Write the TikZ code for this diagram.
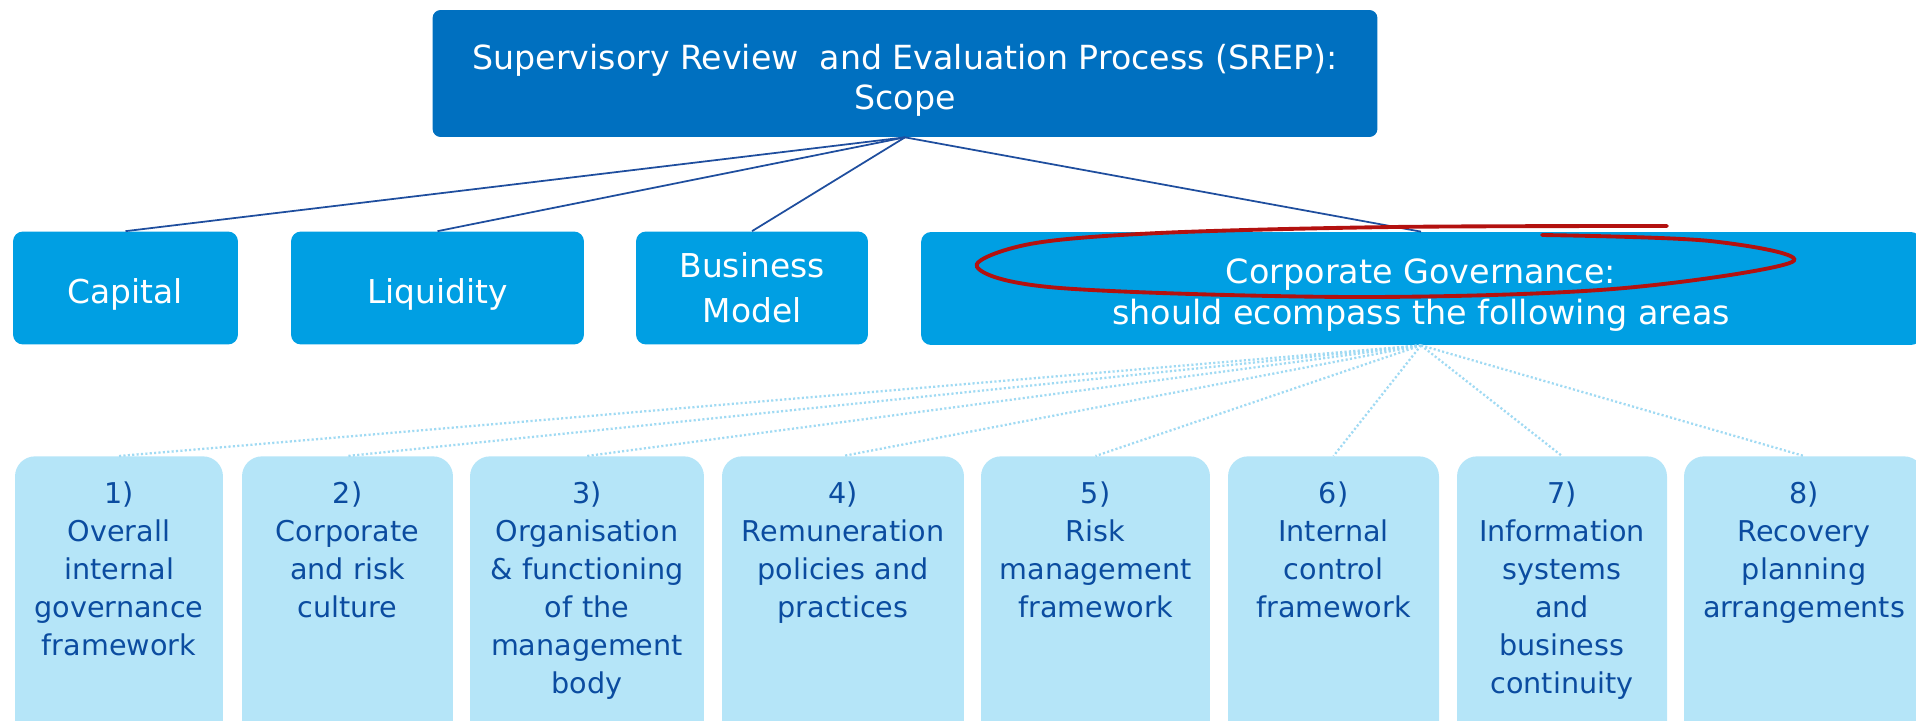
\documentclass[tikz,border=0pt]{standalone}
\usepackage{fontspec}
\setmainfont{DejaVu Sans}
\usepackage{tikz}
\usetikzlibrary{positioning}

\definecolor{srepblue}{HTML}{0070C0}
\definecolor{pillarblue}{HTML}{009FE3}
\definecolor{areafill}{HTML}{B5E5F8}
\definecolor{areatext}{HTML}{0B4CA0}
\definecolor{linkblue}{HTML}{1F4E9E}
\definecolor{dotblue}{HTML}{A0DAF3}
\definecolor{markred}{HTML}{B3110F}

\newcommand\srepfont{\fontsize{18.9}{23}\selectfont}
\newcommand\pillarfont{\fontsize{18.7}{25.5}\selectfont}
\newcommand\govfont{\fontsize{19}{23.6}\selectfont}
\newcommand\areafont{\fontsize{16.3}{21.6}\selectfont}

\tikzset{
    srepbox/.style = {
        fill=srepblue,
        text=white,
        rounded corners=0.16cm,
        align=center,
        text height=41.4pt,
        text depth=0pt,
        font=\srepfont
    },
    pillar/.style = {
        fill=pillarblue,
        text=white,
        rounded corners=0.2cm,
        minimum height=2.26cm,
        align=center,
        font=\pillarfont
    },
    oneline/.style = {text height=17.1pt, text depth=0pt},
    area/.style = {
        fill=areafill,
        text=areatext,
        rounded corners=0.4cm,
        anchor=north,
        align=center,
        inner xsep=0pt,
        inner ysep=0.594cm,
        text height=1em,
        text depth=5.6cm,
        font=\areafont
    },
    link/.style = {draw=linkblue, line width=1pt},
    dotlink/.style = {draw=dotblue, line width=1.3pt, dash pattern=on 1.2pt off 1.3pt},
    redmark/.style = {draw=markred, line width=2.2pt, line cap=round}
}

\begin{document}
\begin{tikzpicture}[x=0.02cm,y=-0.02cm]
    \useasboundingbox (0,0) rectangle (1916,720);
    \clip (0,0) rectangle (1916,720);

    % scope box
    \node[srepbox, minimum width=18.9cm, minimum height=2.54cm] (srep) at (905,73.5)
        {Supervisory Review~ and Evaluation Process (SREP):\\Scope};

    % the four pillars
    \node[pillar, oneline, minimum width=4.5cm] (capital) at (125.5,288) {Capital};
    \node[pillar, oneline, minimum width=5.86cm] (liquidity) at (437.5,288) {Liquidity};
    \node[pillar, minimum width=4.64cm] (bizmodel) at (752,288) {Business\\Model};
    \node[pillar, font=\govfont, text height=41.5pt, text depth=0pt, minimum width=20cm] (corpgov) at (1421,288.5)
        {Corporate Governance:\\should ecompass the following areas};

    % governance areas
    \node[area, text width=4.16cm] (area1) at (119,456) {1)\\Overall\\internal\\governance\\framework};
    \node[area, text width=4.22cm] (area2) at (347.5,456) {2)\\Corporate\\and risk\\culture};
    \node[area, text width=4.68cm] (area3) at (587,456) {3)\\Organisation\\\& functioning\\of the\\management\\body};
    \node[area, text width=4.84cm] (area4) at (843,456) {4)\\Remuneration\\policies and\\practices};
    \node[area, text width=4.58cm] (area5) at (1095.5,456) {5)\\Risk\\management\\framework};
    \node[area, text width=4.22cm] (area6) at (1333.5,456) {6)\\Internal\\control\\framework};
    \node[area, text width=4.2cm] (area7) at (1562,456) {7)\\Information\\systems\\and\\business\\continuity};
    \node[area, text width=4.8cm] (area8) at (1804,456) {8)\\Recovery\\planning\\arrangements};

    \path[link] (srep.south) -- (capital.north);
    \path[link] (srep.south) -- (liquidity.north);
    \path[link] (srep.south) -- (bizmodel.north);
    \path[link] (srep.south) -- (corpgov.north);

    \path[dotlink] (corpgov.south) -- (area1.north);
    \path[dotlink] (corpgov.south) -- (area2.north);
    \path[dotlink] (corpgov.south) -- (area3.north);
    \path[dotlink] (corpgov.south) -- (area4.north);
    \path[dotlink] (corpgov.south) -- (area5.north);
    \path[dotlink] (corpgov.south) -- (area6.north);
    \path[dotlink] (corpgov.south) -- (area7.north);
    \path[dotlink] (corpgov.south) -- (area8.north);

    % hand drawn ring round the heading
    \draw[redmark] plot[smooth, tension=0.55] coordinates {
        (1667,226) (1393,227) (1159,233) (1030,244) (977,267) (1060,288)
        (1354,297) (1613,289) (1792,262) (1710,241) (1542,235)};
\end{tikzpicture}
\end{document}
